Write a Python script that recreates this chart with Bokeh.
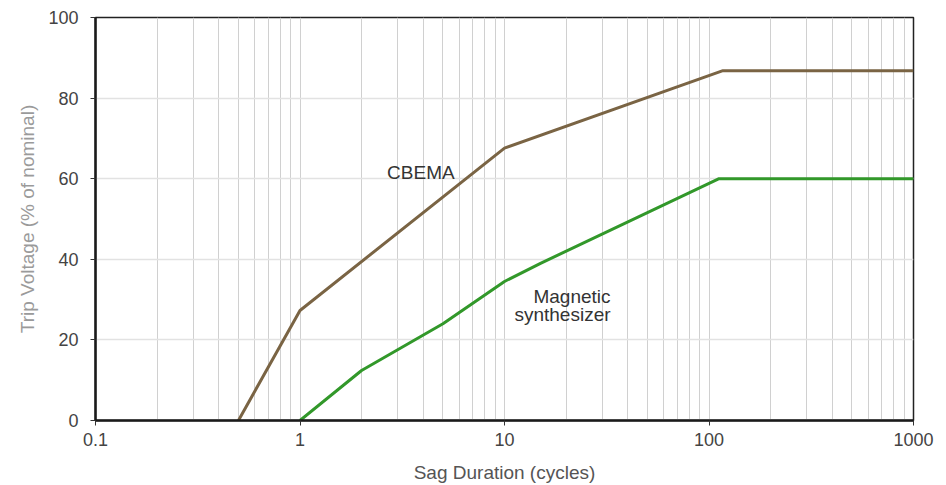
from bokeh.plotting import figure
from bokeh.models import FixedTicker, Label, CustomJSTickFormatter, ColumnDataSource
from bokeh.embed import file_html
from bokeh.resources import INLINE

# Data
cbema_x = [0.5, 1, 10, 117, 1000]
cbema_y = [0, 27.3, 67.6, 86.8, 86.8]
mag_x = [1, 2, 5, 10, 15, 112, 1000]
mag_y = [0, 12.4, 24.0, 34.5, 39.0, 60.0, 60.0]

x_ticks = [0.1, 1, 10, 100, 1000]
y_ticks = [0, 20, 40, 60, 80, 100]
x_grid = [m * 10.0 ** e for e in range(-1, 3) for m in range(1, 10)] + [1000]

FONT = "Liberation Sans"

p = figure(width=946, height=485, x_axis_type="log",
           x_range=(0.1, 1000), y_range=(0, 100),
           output_backend="svg", toolbar_location=None,
           min_border_left=95, min_border_right=33,
           min_border_top=17, min_border_bottom=65)

p.background_fill_color = "white"
p.border_fill_color = "white"
p.outline_line_color = "#222222"
p.outline_line_width = 1.5

# grids
p.xgrid.ticker = FixedTicker(ticks=x_grid)
p.xgrid.grid_line_color = "#d0d0d0"
p.xgrid.grid_line_width = 1
p.ygrid.ticker = FixedTicker(ticks=y_ticks)
p.ygrid.grid_line_color = "#e2e2e2"
p.ygrid.grid_line_width = 1.5

# axes
p.xaxis.ticker = FixedTicker(ticks=x_ticks)
p.xaxis.formatter = CustomJSTickFormatter(code="return tick.toString();")
p.yaxis.ticker = FixedTicker(ticks=y_ticks)
for ax in (p.xaxis[0], p.yaxis[0]):
    ax.axis_line_color = "#1a1a1a"
    ax.axis_line_width = 2.5
    ax.major_tick_line_color = "#333333"
    ax.major_tick_line_width = 1
    ax.major_tick_in = 0
    ax.major_tick_out = 5
    ax.minor_tick_line_color = None
    ax.major_label_text_font = FONT
    ax.major_label_text_font_size = "18px"
    ax.major_label_text_color = "#444444"
    ax.axis_label_text_font = FONT
    ax.axis_label_text_font_size = "19px"
    ax.axis_label_text_font_style = "normal"

p.xaxis.axis_label = "Sag Duration (cycles)"
p.xaxis.axis_label_text_color = "#555555"
p.xaxis.major_label_standoff = 7
p.xaxis.axis_label_standoff = 13
p.yaxis.axis_label = "Trip Voltage (% of nominal)"
p.yaxis.axis_label_text_color = "#9a9a9a"
p.yaxis.major_label_standoff = 12
p.yaxis.axis_label_standoff = 7

src_c = ColumnDataSource(dict(x=cbema_x, y=cbema_y))
src_m = ColumnDataSource(dict(x=mag_x, y=mag_y))
p.line("x", "y", source=src_c, line_color="#7a6444", line_width=3)
p.line("x", "y", source=src_m, line_color="#32982a", line_width=3)

p.add_layout(Label(x=3.9, y=61.5, text="CBEMA", text_align="center",
                   text_baseline="alphabetic", text_font=FONT,
                   text_font_size="19px", text_color="#333333"))
p.add_layout(Label(x=33, y=30.8, text="Magnetic", text_align="right",
                   text_baseline="alphabetic", text_font=FONT,
                   text_font_size="19px", text_color="#333333"))
p.add_layout(Label(x=33, y=26.4, text="synthesizer", text_align="right",
                   text_baseline="alphabetic", text_font=FONT,
                   text_font_size="19px", text_color="#333333"))

open("out.html", "w").write(file_html(p, INLINE))
